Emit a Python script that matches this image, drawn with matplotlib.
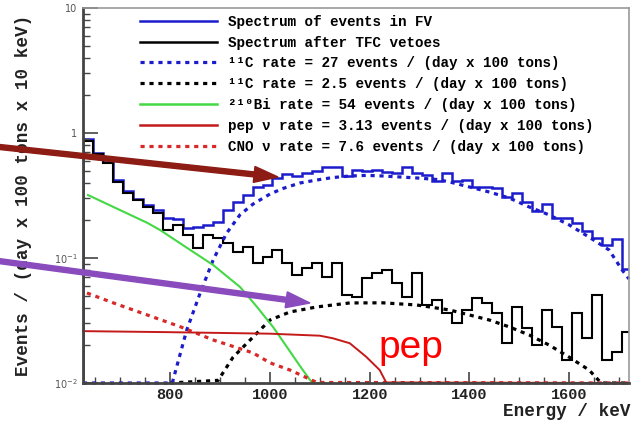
import numpy as np
import matplotlib.pyplot as plt
from matplotlib.lines import Line2D
from matplotlib.patches import FancyArrow
from matplotlib.transforms import IdentityTransform
from matplotlib.ticker import FixedLocator, FixedFormatter, MultipleLocator, LogLocator, NullFormatter

mono = ['Liberation Mono', 'DejaVu Sans Mono']

# histograms, 20 keV bins starting at 625 keV
bin_edges = np.arange(625, 1726, 20)
spec_fv = [0.895, 0.692, 0.586, 0.421, 0.344, 0.296, 0.265, 0.242, 0.209, 0.205,
           0.174, 0.177, 0.184, 0.194, 0.242, 0.281, 0.319, 0.370, 0.384, 0.437,
           0.470, 0.453, 0.479, 0.497, 0.535, 0.535, 0.453, 0.506, 0.497, 0.506,
           0.488, 0.479, 0.535, 0.479, 0.461, 0.413, 0.479, 0.413, 0.421, 0.370,
           0.370, 0.363, 0.308, 0.331, 0.281, 0.238, 0.270, 0.209, 0.209, 0.191,
           0.164, 0.145, 0.127, 0.142, 0.0817]
spec_tfc = [0.863, 0.679, 0.575, 0.406, 0.331, 0.291, 0.256, 0.229, 0.167, 0.184,
            0.153, 0.120, 0.153, 0.145, 0.132, 0.112, 0.122, 0.0912, 0.102, 0.116,
            0.0912, 0.0731, 0.0832, 0.0912, 0.0705, 0.0912, 0.0506, 0.0488, 0.0692, 0.0759,
            0.0802, 0.0631, 0.0488, 0.0759, 0.0421, 0.0461, 0.0363, 0.0302, 0.0384, 0.0479,
            0.0437, 0.0363, 0.0209, 0.0406, 0.0275, 0.0201, 0.0384, 0.0281, 0.0153, 0.0363,
            0.0229, 0.0506, 0.0153, 0.0177, 0.0256]

# fitted components (energy keV, events)
c11_fv_e = [625, 804, 833, 860, 886, 913, 940, 966, 1000, 1026, 1060, 1094, 1126, 1160, 1194,
            1226, 1260, 1294, 1334, 1360, 1400, 1440, 1480, 1520, 1560, 1600, 1640, 1680, 1706, 1720]
c11_fv = [0.01, 0.01, 0.0265, 0.0525, 0.0964, 0.158, 0.222, 0.27, 0.325, 0.36, 0.398, 0.421, 0.44,
          0.453, 0.458, 0.453, 0.445, 0.437, 0.425, 0.406, 0.37, 0.337, 0.302, 0.256, 0.221, 0.184,
          0.147, 0.116, 0.0804, 0.068]
c11_tfc_e = [800, 896, 926, 966, 1000, 1040, 1094, 1160, 1226, 1294, 1334, 1360, 1400, 1440,
             1480, 1520, 1560, 1600, 1640, 1664, 1720]
c11_tfc = [0.01, 0.0105, 0.0161, 0.0233, 0.0319, 0.037, 0.0406, 0.0437, 0.0438, 0.0421, 0.0398,
           0.0384, 0.035, 0.0319, 0.0281, 0.0242, 0.0201, 0.0161, 0.0127, 0.01, 0.01]
bi_e = [635, 686, 754, 780, 840, 886, 940, 974, 1006, 1034, 1060, 1080, 1086, 1110]
bi = [0.319, 0.256, 0.191, 0.167, 0.116, 0.0879, 0.0586, 0.0406, 0.0281, 0.0194, 0.0137,
      0.0106, 0.01, 0.01]
pep_e = [625, 800, 1000, 1100, 1126, 1160, 1193, 1220, 1233, 1720]
pep = [0.026, 0.0255, 0.0248, 0.0239, 0.0228, 0.0208, 0.0162, 0.0127, 0.0101, 0.01]
cno_e = [633, 686, 754, 820, 886, 966, 1000, 1040, 1074, 1094, 1720]
cno = [0.0525, 0.0437, 0.035, 0.0282, 0.0221, 0.0174, 0.0145, 0.0127, 0.011, 0.0101, 0.01]

labels = ['Spectrum of events in FV',
          'Spectrum after TFC vetoes',
          '¹¹C rate = 27 events / (day x 100 tons)',
          '¹¹C rate = 2.5 events / (day x 100 tons)',
          '²¹⁰Bi rate = 54 events / (day x 100 tons)',
          'pep ν rate = 3.13 events / (day x 100 tons)',
          'CNO ν rate = 7.6 events / (day x 100 tons)']
ytick_vals = [0.01, 0.1, 1, 10]
ytick_labels = ['$10^{-2}$', '$10^{-1}$', '1', '10']

blue = '#1c1ccc'
green = '#44d844'
red = '#c41a1a'
red_dot = '#d82828'
dot = (0, (1.3, 1.5))

fig = plt.figure(figsize=(6.32, 4.22), dpi=100)
ax = fig.add_axes([83 / 632, 1 - 383 / 422, (629 - 83) / 632, (383 - 8) / 422])
ax.set_yscale('log')
ax.set_xlim(625, 1720)
ax.set_ylim(0.01, 10)

ax.stairs(spec_fv, bin_edges, color=blue, lw=1.8)
ax.stairs(spec_tfc, bin_edges, color='black', lw=1.5)
ax.plot(c11_tfc_e, c11_tfc, color='black', lw=2.3, ls=dot, clip_on=False)
ax.plot(c11_fv_e, c11_fv, color=blue, lw=2.3, ls=dot, clip_on=False)
ax.plot(bi_e, bi, color=green, lw=1.5, clip_on=False)
ax.plot(cno_e, cno, color=red_dot, lw=2.3, ls=dot, clip_on=False)
ax.plot(pep_e, pep, color=red, lw=1.4, clip_on=False)

handles = [Line2D([], [], color=blue, lw=1.8),
           Line2D([], [], color='black', lw=1.8),
           Line2D([], [], color=blue, lw=2.3, ls=dot),
           Line2D([], [], color='black', lw=2.3, ls=dot),
           Line2D([], [], color=green, lw=1.8),
           Line2D([], [], color=red, lw=1.8),
           Line2D([], [], color=red_dot, lw=2.3, ls=dot)]
ax.legend(handles, labels, loc='upper left', bbox_to_anchor=(0.104, 0.982), frameon=False,
          prop=dict(family=mono, weight='bold', size=10.3), handlelength=5.4,
          handletextpad=0.75, labelspacing=0.475, borderpad=0, borderaxespad=0)

# ticks, ROOT style (inside)
ax.xaxis.set_major_locator(MultipleLocator(200))
ax.xaxis.set_minor_locator(MultipleLocator(50))
ax.yaxis.set_major_locator(FixedLocator(ytick_vals))
ax.yaxis.set_major_formatter(FixedFormatter(ytick_labels))
ax.yaxis.set_minor_locator(LogLocator(base=10, subs=np.arange(2, 10)))
ax.yaxis.set_minor_formatter(NullFormatter())
ax.tick_params(axis='both', which='both', direction='in', color='#444', top=False, right=False)
ax.tick_params(axis='y', which='major', length=11, width=1.2, labelsize=7, labelcolor='#555', pad=4)
ax.tick_params(axis='y', which='minor', length=5, width=1.0)
ax.tick_params(axis='x', which='major', length=8, width=1.2, pad=3.5)
ax.tick_params(axis='x', which='minor', length=4, width=1.0)
for lab in ax.get_xticklabels():
    lab.set_fontfamily(mono)
    lab.set_fontweight('bold')
    lab.set_fontsize(11)
    lab.set_color('#222')

for s in ['left', 'bottom']:
    ax.spines[s].set_linewidth(2)
    ax.spines[s].set_color('#444')
for s in ['top', 'right']:
    ax.spines[s].set_linewidth(1.2)
    ax.spines[s].set_color('#999')

ax.set_ylabel('Events / (day x 100 tons x 10 keV)', family=mono, weight='bold',
              fontsize=12.7, color='#222')
ax.yaxis.set_label_coords(-0.0934, 0.501)
ax.set_xlabel('Energy / keV', family=mono, weight='bold', fontsize=12.7, color='#222',
              ha='left', va='center')
ax.xaxis.set_label_coords(0.769, -0.077)

ax.text(1217, 0.0158, 'pep', color='red', fontsize=28, family='Liberation Sans',
        va='baseline', ha='left')

# arrows pointing at the 11C shoulders
fig.add_artist(FancyArrow(-5, 275.5, 283, -30.5, width=5, head_width=16, head_length=24,
                          length_includes_head=True, color='#8c1c14', transform=IdentityTransform()))
fig.add_artist(FancyArrow(-5, 161.5, 315, -42.5, width=5, head_width=16, head_length=24,
                          length_includes_head=True, color='#8a4cbd', transform=IdentityTransform()))

fig.savefig('out.png', dpi=100)
